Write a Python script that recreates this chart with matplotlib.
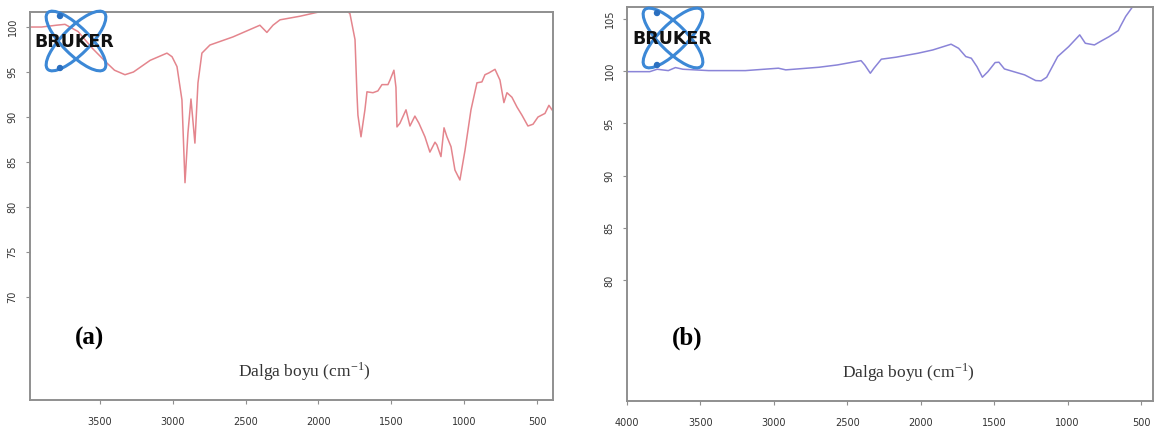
import matplotlib
matplotlib.use("Agg")
import matplotlib.pyplot as plt
from matplotlib.patches import Ellipse, Circle

# FTIR spectrum (a) - wavenumber (cm-1) and transmittance
wn_a = [3980, 3900, 3800, 3740, 3650, 3550, 3452, 3400, 3328, 3270,
        3155, 3040, 3005, 2971, 2937, 2916, 2896, 2875, 2848, 2827,
        2800, 2745, 2587, 2402, 2354, 2312, 2264, 2127, 1990, 1900,
        1820, 1784, 1749, 1736, 1729, 1708, 1681, 1667, 1626, 1592,
        1564, 1523, 1509, 1482, 1468, 1461, 1441, 1399, 1372, 1338,
        1310, 1269, 1235, 1200, 1187, 1159, 1138, 1118, 1090, 1063,
        1029, 994, 953, 912, 878, 857, 830, 788, 754, 727,
        706, 672, 637, 603, 562, 527, 493, 445, 418, 397]
T_a = [100.0, 100.0, 100.2, 100.3, 99.5, 97.6, 96.0, 95.2, 94.7, 95.0,
       96.3, 97.1, 96.7, 95.6, 91.9, 82.7, 88.2, 92.0, 87.1, 93.8,
       97.1, 98.0, 98.9, 100.2, 99.4, 100.2, 100.8, 101.2, 101.7, 102.2,
       102.0, 101.5, 98.6, 92.7, 90.2, 87.8, 90.8, 92.8, 92.7, 92.9,
       93.6, 93.6, 94.1, 95.2, 93.3, 88.9, 89.3, 90.8, 89.0, 90.1,
       89.3, 87.8, 86.1, 87.2, 86.9, 85.6, 88.8, 87.8, 86.7, 84.1,
       83.0, 86.3, 90.8, 93.8, 93.9, 94.7, 94.9, 95.3, 94.1, 91.6,
       92.7, 92.2, 91.1, 90.2, 89.0, 89.2, 90.0, 90.4, 91.3, 90.8]

# FTIR spectrum (b)
wn_b = [3995, 3845, 3795, 3719, 3670, 3619, 3444, 3194, 2969, 2919,
        2693, 2568, 2406, 2381, 2343, 2318, 2268, 2168, 2018, 1918,
        1793, 1742, 1693, 1655, 1617, 1580, 1542, 1493, 1467, 1430,
        1367, 1292, 1217, 1180, 1142, 1067, 992, 917, 879, 817,
        766, 717, 654, 642, 604, 553, 500, 420]
T_b = [99.93, 99.93, 100.16, 100.03, 100.32, 100.16, 100.03, 100.03, 100.26, 100.1,
       100.35, 100.57, 100.98, 100.57, 99.78, 100.26, 101.12, 101.31, 101.69, 102.0,
       102.55, 102.16, 101.37, 101.21, 100.41, 99.4, 99.93, 100.8, 100.83, 100.19,
       99.93, 99.62, 99.08, 99.05, 99.4, 101.37, 102.32, 103.44, 102.64, 102.48,
       102.89, 103.27, 103.85, 104.2, 105.2, 106.2, 107.5, 108.5]

xticks_a = [3500, 3000, 2500, 2000, 1500, 1000, 500]
yticks_a = [70, 75, 80, 85, 90, 95, 100]
xticks_b = [4000, 3500, 3000, 2500, 2000, 1500, 1000, 500]
yticks_b = [80, 85, 90, 95, 100, 105]

xlabel = r"Dalga boyu (cm$^{\mathregular{-1}}$)"

plt.rcParams['mathtext.fontset'] = 'stix'
W, H = 1156, 429
fig = plt.figure(figsize=(W / 100, H / 100), dpi=100)

frame_col = '#8f8f8f'
tick_font = ['Liberation Sans Narrow', 'DejaVu Sans']


def style_axes(ax, xt, yt):
    for s in ax.spines.values():
        s.set_color(frame_col)
        s.set_linewidth(1.4)
    ax.set_xticks(xt)
    ax.set_yticks(yt)
    ax.set_xticklabels([str(v) for v in xt], family=tick_font, fontsize=7, color='#333333')
    ax.set_yticklabels([str(v) for v in yt], family=tick_font, fontsize=7, color='#333333',
                       rotation=90, va='center')
    ax.tick_params(axis='both', direction='out', length=3, width=0.8, color=frame_col)
    ax.tick_params(axis='x', pad=9)
    ax.tick_params(axis='y', pad=6)


# ---- panel (a)
ax1 = fig.add_axes([30 / W, (H - 400) / H, 523 / W, 388 / H])
ax1.plot(wn_a, T_a, color='#e4858d', lw=1.1)
ax1.set_xlim(3980, 390)
ax1.set_ylim(58.55, 101.67)
style_axes(ax1, xticks_a, yticks_a)

# ---- panel (b)
ax2 = fig.add_axes([627 / W, (H - 401) / H, 526 / W, 394 / H])
ax2.plot(wn_b, T_b, color='#8a84d8', lw=1.1)
ax2.set_xlim(4000, 418)
ax2.set_ylim(68.5, 106.1)
style_axes(ax2, xticks_b, yticks_b)

# overlay in pixel coords for labels and logos
ov = fig.add_axes([0, 0, 1, 1], facecolor='none')
ov.set_xlim(0, W)
ov.set_ylim(H, 0)
ov.axis('off')

ov.text(90, 338, "(a)", family='Liberation Serif', fontweight='bold', fontsize=18,
        ha='center', va='center')
ov.text(687, 338, "(b)", family='Liberation Serif', fontweight='bold', fontsize=18,
        ha='center', va='center')
ov.text(304, 372, xlabel, family='Liberation Serif', fontsize=12.5, color='#333333',
        ha='center', va='center')
ov.text(908, 373, xlabel, family='Liberation Serif', fontsize=12.5, color='#333333',
        ha='center', va='center')


def bruker_logo(cx, cy, tx):
    for ang in (45, -45):
        ov.add_patch(Ellipse((cx, cy), 80, 27, angle=ang, fill=False,
                             edgecolor='#3c88d6', lw=2.2, zorder=5))
    ov.add_patch(Circle((cx - 16, cy - 25), 2.5, color='#2a6fc0', zorder=6))
    ov.add_patch(Circle((cx - 16, cy + 27), 2.5, color='#2a6fc0', zorder=6))
    ov.text(tx, cy + 1, "BRUKER", family='DejaVu Sans', fontweight='bold', fontsize=12.5,
            color='#111111', ha='center', va='center', zorder=7)


bruker_logo(76, 41, 74)
bruker_logo(673, 38, 672)

fig.savefig("out.png", dpi=100)
